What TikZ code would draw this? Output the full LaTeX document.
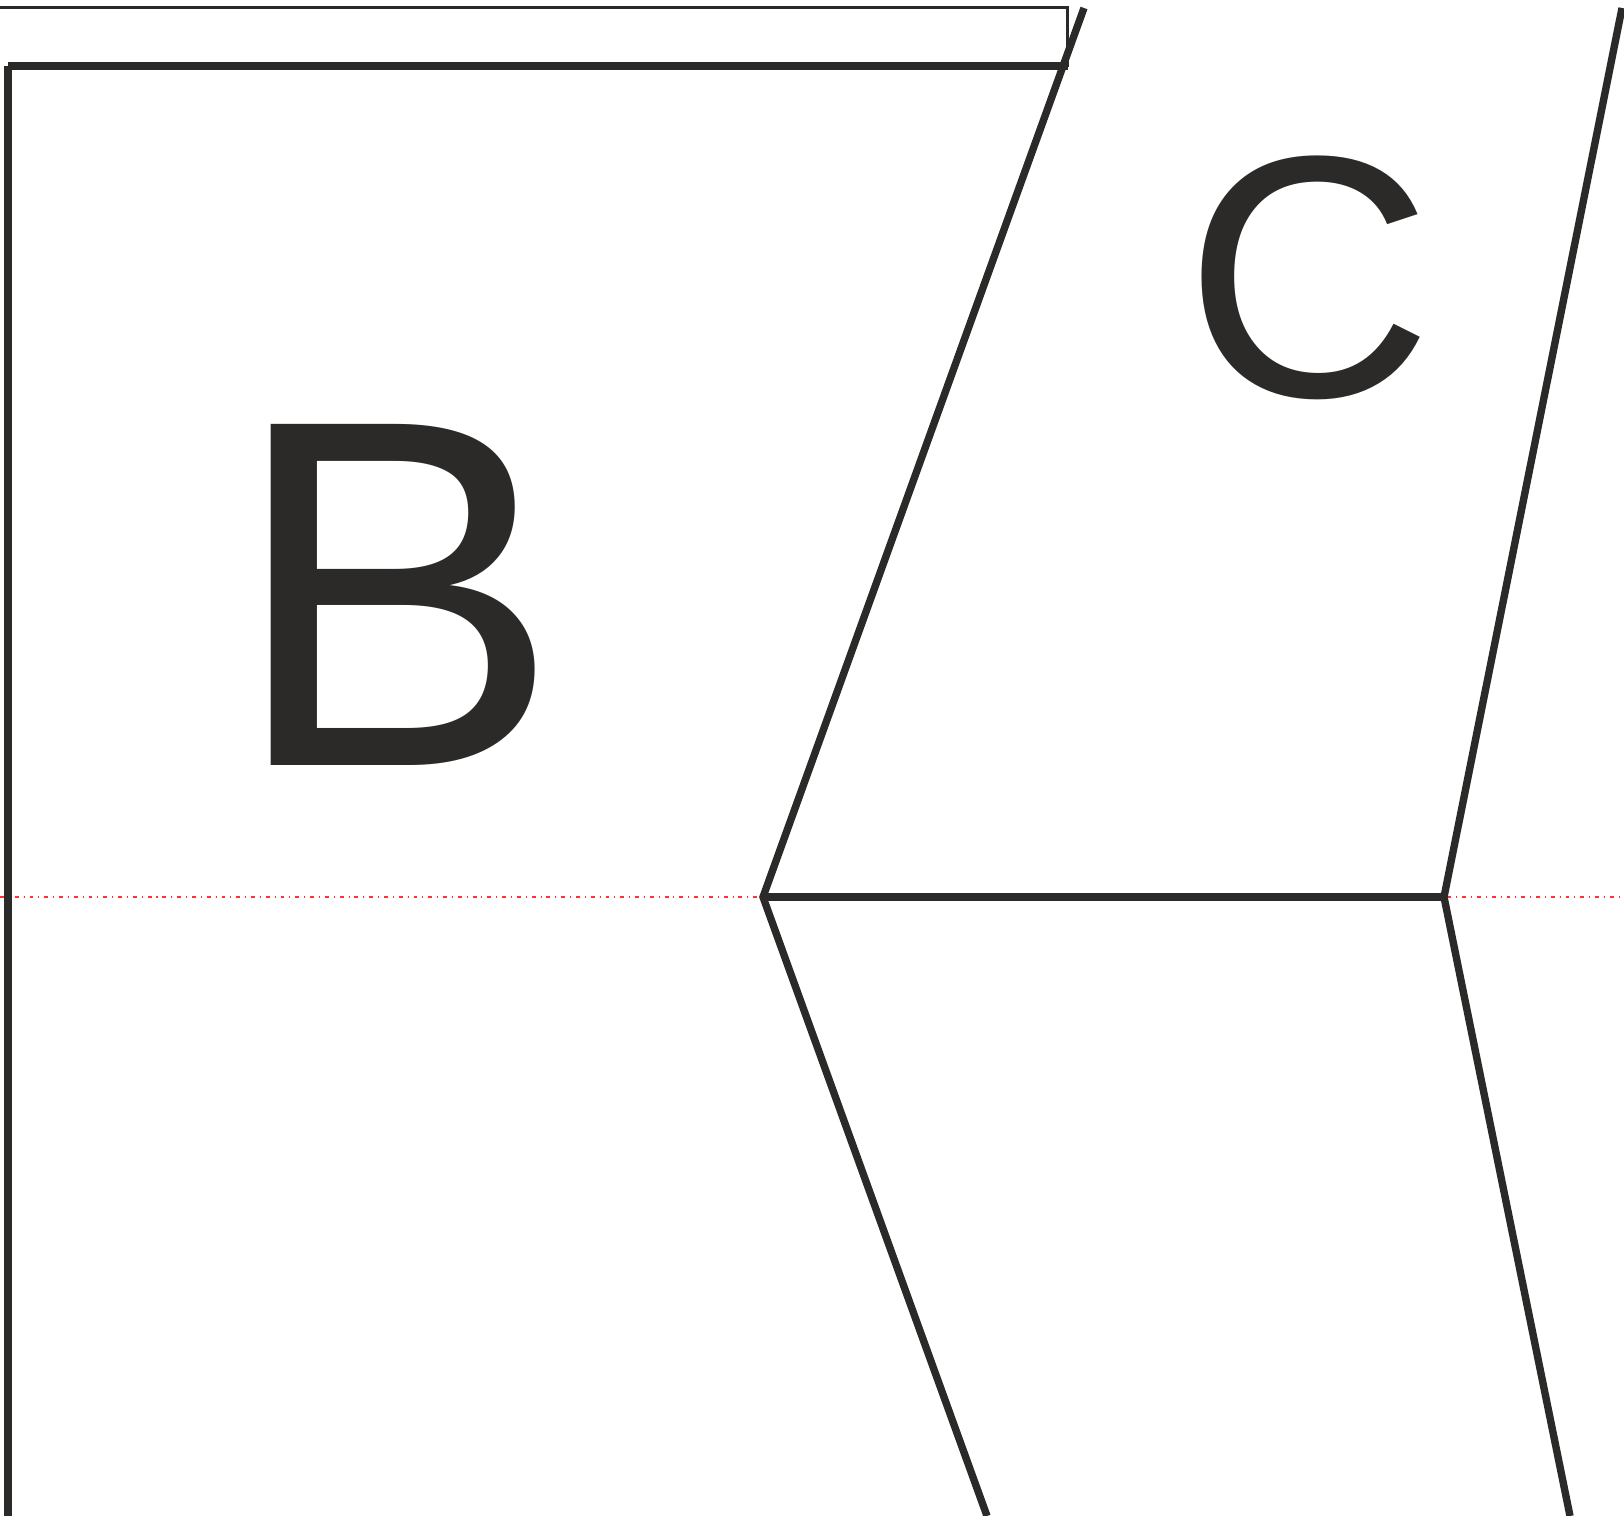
\documentclass[tikz,border=0pt]{standalone}
\usepackage{fontspec}
\setmainfont{Liberation Sans}
\usepackage{tikz}
\usetikzlibrary{positioning}
\definecolor{ink}{HTML}{2B2A29}

\begin{document}
\begin{tikzpicture}[
  x=0.01cm, y=-0.01cm,
  wall/.style={draw=ink, line width=2.1pt},
  rim/.style={draw=ink, line width=0.85pt},
  axisline/.style={draw=red, opacity=0.8, line width=0.3pt, dash pattern=on 1.1pt off 1.4pt on 0.3pt off 1.4pt},
  lbl/.style={text=ink, inner sep=0pt, anchor=center}]
\useasboundingbox (0,0) rectangle (1624,1516);
% centre line
\coordinate (al) at (0,897);
\coordinate (ar) at (1624,897);
\draw[axisline] (al) -- (ar);
% corner points
\coordinate (p0) at (0,8);
\coordinate (p1) at (1067,8);
\coordinate (p2) at (1067,67);
\coordinate (q0) at (8,66);
\coordinate (q1) at (1068,66);
\coordinate (q2) at (8,1516);
\coordinate (u1) at (1084,8);
\coordinate (u2) at (1622,8);
\coordinate (m1) at (763,897);
\coordinate (m2) at (1444,897);
\coordinate (d1) at (987,1516);
\coordinate (d2) at (1570,1516);
% outline
\draw[rim] (p0) -- (p1) -- (p2);
\draw[wall] (q0) -- (q1);
\draw[wall] (q0) -- (q2);
\draw[wall] (u1) -- (m1) -- (d1);
\draw[wall] (u2) -- (m2) -- (d2);
\draw[wall] (m1) -- (m2);
% letters
\node[lbl, font=\fontsize{141}{141}\selectfont] (lb) at (396,595) {B};
\node[lbl, font=\fontsize{98}{98}\selectfont] (lc) at (1309,278) {C};
\end{tikzpicture}
\end{document}
